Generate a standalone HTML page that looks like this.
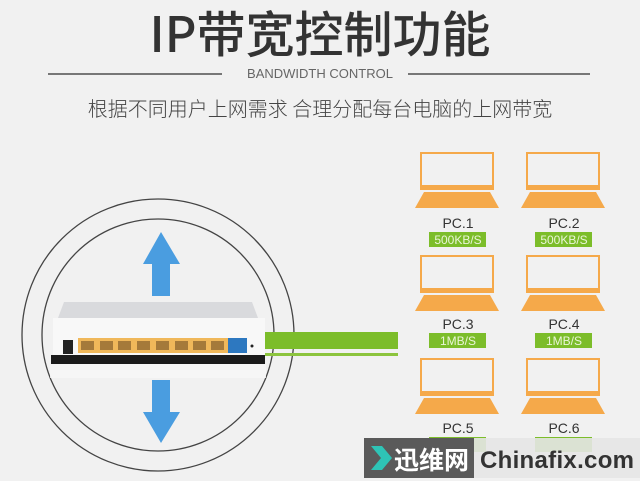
<!DOCTYPE html>
<html><head><meta charset="utf-8"><style>
html,body{margin:0;padding:0;background:#f1f1f1;width:640px;height:481px;overflow:hidden;font-family:"Liberation Sans","Noto Sans CJK SC",sans-serif}
.a{position:absolute}
</style></head><body>
<div class="a" style="left:0;top:0;width:640px;height:481px">
<div class="a" style="left:0;top:2px;width:640px;text-align:center;font-size:49px;line-height:60px;color:#333;font-family:'Noto Sans CJK SC',sans-serif;font-weight:500">IP带宽控制功能</div>
<div class="a" style="left:48px;top:73px;width:174px;height:2px;background:#777"></div>
<div class="a" style="left:408px;top:73px;width:182px;height:2px;background:#777"></div>
<div class="a" style="left:232px;top:66px;width:176px;text-align:center;font-size:13px;color:#666;line-height:16px">BANDWIDTH CONTROL</div>
<div class="a" style="left:0;top:95px;width:640px;text-align:center;font-size:20px;color:#444;line-height:26px;font-family:'Noto Sans CJK SC',sans-serif;font-weight:300">根据不同用户上网需求 合理分配每台电脑的上网带宽</div>
<svg class="a" style="left:0;top:0" width="640" height="481">
<circle cx="158" cy="335" r="136" fill="none" stroke="#444" stroke-width="1.3"/>
<circle cx="158" cy="335" r="116" fill="none" stroke="#444" stroke-width="1.3"/>
<polygon points="161,232 180,264 170,264 170,296 152,296 152,264 143,264" fill="#4a9de0"/>
<polygon points="161,443 180,412 170,412 170,380 152,380 152,412 143,412" fill="#4a9de0"/>
<rect x="50" y="364" width="216" height="14" fill="#f7f7f7" opacity="0.8"/>
<polygon points="64,302 252,302 258,318 58,318" fill="#d9dadd"/>
<rect x="53" y="318" width="212" height="38" fill="#f8f8f8"/>
<rect x="51" y="355" width="214" height="9" fill="#1b1b1b"/>
<rect x="63" y="340" width="10" height="14" fill="#222"/>
<rect x="78" y="338" width="150" height="15" fill="#f0b85a"/>
<g fill="#a57a3a">
<rect x="81" y="341" width="13" height="9"/><rect x="100" y="341" width="13" height="9"/><rect x="118" y="341" width="13" height="9"/><rect x="137" y="341" width="13" height="9"/><rect x="156" y="341" width="13" height="9"/><rect x="175" y="341" width="13" height="9"/><rect x="193" y="341" width="13" height="9"/><rect x="211" y="341" width="13" height="9"/>
</g>
<rect x="228" y="338" width="19" height="15" fill="#2d78c0"/>
<circle cx="252" cy="346" r="1.5" fill="#222"/>
<rect x="265" y="332" width="133" height="17" fill="#7cbd2a"/>
<rect x="265" y="353" width="133" height="3" fill="#8cc43e"/>
<g id="lp" fill="#f5a94a">
<path d="M421,153 h72 v35 h-72 z" fill="none" stroke="#f5a94a" stroke-width="2"/>
<rect x="420" y="185" width="74" height="5"/>
<polygon points="424,192 490,192 499,208 415,208"/>
</g>
<use href="#lp" x="106" y="0"/>
<use href="#lp" x="0" y="103"/>
<use href="#lp" x="106" y="103"/>
<use href="#lp" x="0" y="206"/>
<use href="#lp" x="106" y="206"/>
<g fill="#7cbd2a">
<rect x="429" y="232" width="57" height="15"/><rect x="535" y="232" width="57" height="15"/>
<rect x="429" y="333" width="57" height="15"/><rect x="535" y="333" width="57" height="15"/>
<rect x="429" y="437" width="57" height="15"/><rect x="535" y="437" width="57" height="15"/>
</g>
<g font-family="Liberation Sans,sans-serif" font-size="14" fill="#333" text-anchor="middle">
<text x="458" y="228">PC.1</text><text x="564" y="228">PC.2</text>
<text x="458" y="329">PC.3</text><text x="564" y="329">PC.4</text>
<text x="458" y="433">PC.5</text><text x="564" y="433">PC.6</text>
</g>
<g font-family="Liberation Sans,sans-serif" font-size="12" fill="#eaf5d8" text-anchor="middle">
<text x="458" y="244">500KB/S</text><text x="564" y="244">500KB/S</text>
<text x="458" y="345">1MB/S</text><text x="564" y="345">1MB/S</text>
</g>
<rect x="364" y="438" width="110" height="40" fill="#5a5a5a"/>
<rect x="474" y="438" width="166" height="40" fill="#e6e6e6" opacity="0.9"/>
<polygon points="371,446 382,446 392,458 382,470 371,470 381,458" fill="#2ec4b6"/>
<text x="394" y="469" font-family="Noto Sans CJK SC,sans-serif" font-size="25" font-weight="bold" fill="#fff">迅维网</text>
<text x="480" y="468" font-family="Liberation Sans,sans-serif" font-size="24" font-weight="bold" fill="#333" textLength="154">Chinafix.com</text>
</svg>
</div>
</body></html>
